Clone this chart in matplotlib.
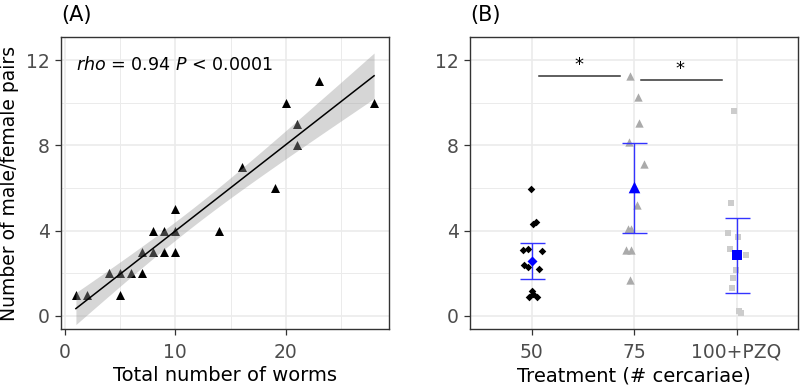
import numpy as np
import matplotlib.pyplot as plt

plt.rcParams['font.family'] = ['DejaVu Sans']

# panel A: worms vs pairs
worms = [1, 2, 4, 5, 5, 6, 7, 7, 8, 8, 9, 9, 10, 10, 10, 14, 16, 19, 20, 21, 21, 23, 28]
pairs = [1, 1, 2, 2, 1, 2, 2, 3, 3, 4, 4, 3, 4, 3, 5, 4, 7, 6, 10, 9, 8, 11, 10]

# panel B: jittered points per treatment
groups = ["50", "75", "100+PZQ"]
g50_dx = [-0.007, 0.016, 0.042, -0.082, -0.033, 0.103, -0.075, -0.033, 0.074, 0.0, 0.016, -0.026, 0.049]
g50_y = [5.95, 4.30, 4.39, 3.09, 3.16, 3.05, 2.39, 2.31, 2.22, 1.18, 1.03, 0.91, 0.88]
g75_dx = [-0.035, 0.039, 0.049, -0.052, 0.094, 0.033, -0.058, -0.025, -0.074, -0.025, -0.035]
g75_y = [11.27, 10.28, 9.06, 8.17, 7.13, 5.19, 4.06, 4.06, 3.09, 3.09, 1.69]
g100_dx = [-0.029, -0.054, -0.081, 0.010, -0.061, 0.097, -0.006, -0.032, -0.045, 0.026, 0.043]
g100_y = [9.61, 5.28, 3.88, 3.69, 3.14, 2.86, 2.16, 1.77, 1.33, 0.25, 0.13]
means = [2.59, 6.06, 2.85]
upper = [3.41, 8.10, 4.61]
lower = [1.72, 3.91, 1.06]

GRID = '#EBEBEB'
BORDER = '#333333'


def style_axes(ax):
    ax.set_facecolor('white')
    for s in ax.spines.values():
        s.set_color(BORDER)
        s.set_linewidth(1.0)
    ax.tick_params(length=4, width=0.9, color=BORDER, labelcolor='#4D4D4D', labelsize=13.5)
    ax.tick_params(axis='x', pad=6)
    ax.tick_params(axis='y', pad=4)
    ax.grid(True, which='major', color=GRID, lw=1.2, zorder=0)
    ax.grid(True, which='minor', color=GRID, lw=0.7, zorder=0)
    ax.tick_params(which='minor', length=0)
    ax.set_axisbelow(True)
    ax.set_ylim(-0.61, 13.08)
    ax.set_yticks([0, 4, 8, 12])
    ax.set_yticks([2, 6, 10], minor=True)


fig = plt.figure(figsize=(8, 3.86), dpi=100)
axA = fig.add_axes([0.07625, 0.1477, 0.41, 0.7565])
axB = fig.add_axes([0.5875, 0.1477, 0.41, 0.7565])

# ---- panel A
style_axes(axA)
x = np.array(worms, float)
y = np.array(pairs, float)
b, a = np.polyfit(x, y, 1)
xs = np.linspace(x.min(), x.max(), 80)
n = len(x)
resid = y - (a + b * x)
s = np.sqrt(np.sum(resid ** 2) / (n - 2))
se = s * np.sqrt(1 / n + (xs - x.mean()) ** 2 / np.sum((x - x.mean()) ** 2))
t = 2.080  # t(0.975, df=21)
fit = a + b * xs

axA.scatter(worms, pairs, marker='^', s=42, color='black', lw=0, zorder=3)
axA.fill_between(xs, fit - t * se, fit + t * se, color='#999999', alpha=0.4, lw=0, zorder=4)
axA.plot(xs, fit, color='black', lw=1.1, zorder=5)
axA.set_xlim(-0.35, 29.35)
axA.set_xticks([0, 10, 20])
axA.set_xticks([5, 15, 25], minor=True)
axA.set_xlabel('Total number of worms', fontsize=14, labelpad=3)
axA.set_ylabel('Number of male/female pairs', fontsize=13.5, labelpad=5)
axA.text(0.045, 0.905, r'$\it{rho}$ = 0.94 $\it{P}$ < 0.0001', transform=axA.transAxes,
         fontsize=12.6, ha='left', va='center')
axA.text(0.0, 1.04, '(A)', transform=axA.transAxes, fontsize=15, ha='left', va='bottom')

# ---- panel B
style_axes(axB)
axB.scatter(1 + np.array(g50_dx), g50_y, marker='D', s=15, color='black', lw=0, zorder=3)
axB.scatter(2 + np.array(g75_dx), g75_y, marker='^', s=36, color='#AAAAAA', lw=0, zorder=3)
axB.scatter(3 + np.array(g100_dx), g100_y, marker='s', s=24, color='#CCCCCC', lw=0, zorder=3)
pos = np.arange(1, 4)
axB.errorbar(pos, means, yerr=[np.array(means) - np.array(lower), np.array(upper) - np.array(means)],
             fmt='none', ecolor='#3333FF', elinewidth=1.0, capsize=9, capthick=1.0, zorder=4)
axB.scatter([1], [means[0]], marker='D', s=26, color='blue', lw=0, zorder=5)
axB.scatter([2], [means[1]], marker='^', s=70, color='blue', lw=0, zorder=5)
axB.scatter([3], [means[2]], marker='s', s=48, color='blue', lw=0, zorder=5)
axB.set_xlim(0.4, 3.6)
axB.set_xticks(pos)
axB.set_xticklabels(groups)
axB.set_xlabel('Treatment (# cercariae)', fontsize=14, labelpad=3)

axB.plot([1.07, 1.86], [11.27, 11.27], color='#333333', lw=1.1, zorder=4)
axB.plot([2.07, 2.86], [11.06, 11.06], color='#333333', lw=1.1, zorder=4)
axB.text(1.46, 11.35, '*', fontsize=13, ha='center', va='bottom')
axB.text(2.45, 11.14, '*', fontsize=13, ha='center', va='bottom')
axB.text(0.0, 1.04, '(B)', transform=axB.transAxes, fontsize=15, ha='left', va='bottom')

fig.savefig('out.png', dpi=100)
